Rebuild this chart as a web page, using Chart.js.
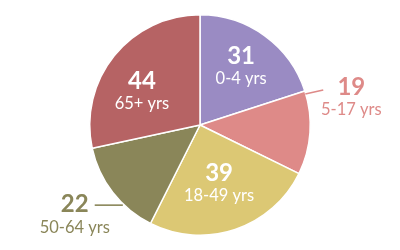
<!DOCTYPE html>
<html><head><meta charset="utf-8">
<script src="https://cdn.jsdelivr.net/npm/chart.js@4"></script>
<style>html,body{margin:0;padding:0;background:#fff}#w{width:400px;height:250px}</style>
</head><body><div id="w"><canvas id="c"></canvas></div>
<script>
const categories = ["0-4 yrs", "5-17 yrs", "18-49 yrs", "50-64 yrs", "65+ yrs"];
const values = [31, 19, 39, 22, 44];
const colors = ["#9a8bc3", "#de8a88", "#dcc874", "#8a8659", "#b66364"];

// label placement relative to pie centre, in units of the radius
const placement = [
  {t: [0.373, -0.527]},
  {t: [1.373, -0.245], line: [[0.955, -0.282], [1.118, -0.318]]},
  {t: [0.173, 0.536]},
  {t: [-1.136, 0.818], line: [[-0.70, 0.727], [-0.955, 0.727]]},
  {t: [-0.527, -0.30]}
];

const labelPlugin = {
  id: 'pieLabels',
  afterDatasetsDraw(chart) {
    const ctx = chart.ctx;
    const meta = chart.getDatasetMeta(0);
    meta.data.forEach((arc, i) => {
      const {x, y, outerRadius: r} = arc.getProps(['x','y','outerRadius'], true);
      const p = placement[i];
      const col = p.line ? colors[i] : '#ffffff';
      if (p.line) {
        ctx.save();
        ctx.strokeStyle = col;
        ctx.lineWidth = 1.6;
        ctx.beginPath();
        ctx.moveTo(x + p.line[0][0]*r, y + p.line[0][1]*r);
        ctx.lineTo(x + p.line[1][0]*r, y + p.line[1][1]*r);
        ctx.stroke();
        ctx.restore();
      }
      const tx = x + p.t[0]*r, ty = y + p.t[1]*r;
      ctx.save();
      ctx.fillStyle = col;
      ctx.textAlign = 'center';
      ctx.textBaseline = 'middle';
      ctx.font = 'bold 24px Lato';
      ctx.fillText(String(values[i]), tx, ty - 11);
      ctx.font = '16.5px Lato';
      ctx.fillText(categories[i], tx, ty + 12);
      ctx.restore();
    });
  }
};

new Chart(document.getElementById('c'), {
  type: 'pie',
  data: {
    labels: categories,
    datasets: [{
      data: values,
      backgroundColor: colors,
      borderColor: '#ffffff',
      borderWidth: 1.5
    }]
  },
  options: {
    responsive: true,
    maintainAspectRatio: false,
    animation: false,
    layout: {padding: {top: 14, bottom: 14}},
    plugins: {legend: {display: false}, tooltip: {enabled: false}}
  },
  plugins: [labelPlugin]
});
</script>
</body></html>
